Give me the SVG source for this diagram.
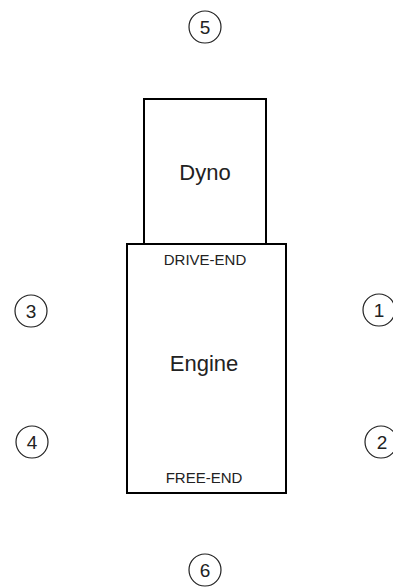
<svg xmlns="http://www.w3.org/2000/svg" width="393" height="587" viewBox="0 0 393 587">
<style>
.box{fill:#fff;stroke:#000;stroke-width:2}
.c{fill:#fff;stroke:#222;stroke-width:1.2}
.n{font-family:"Liberation Sans",Arial,sans-serif;font-size:19px;fill:#222;text-anchor:middle}
.t{font-family:"Liberation Sans",Arial,sans-serif;fill:#222;text-anchor:middle}
</style>
<rect width="393" height="587" fill="#fff"/>
<g id="dyno">
<rect class="box" x="144" y="99" width="122" height="145"/>
<text class="t" x="205" y="180" font-size="22">Dyno</text>
</g>
<g id="engine">
<rect class="box" x="127" y="244" width="159" height="249"/>
<text class="t" x="205" y="265" font-size="15">DRIVE-END</text>
<text class="t" x="204" y="371" font-size="22">Engine</text>
<text class="t" x="204" y="483" font-size="15">FREE-END</text>
</g>
<g id="p5"><circle class="c" cx="205" cy="27" r="16"/><text class="n" x="205" y="34">5</text></g>
<g id="p3"><circle class="c" cx="31" cy="311" r="16"/><text class="n" x="31" y="318">3</text></g>
<g id="p4"><circle class="c" cx="32" cy="442" r="16"/><text class="n" x="32" y="449">4</text></g>
<g id="p1"><circle class="c" cx="379" cy="310" r="16"/><text class="n" x="379" y="317">1</text></g>
<g id="p2"><circle class="c" cx="381" cy="442" r="16"/><text class="n" x="382" y="449">2</text></g>
<g id="p6"><circle class="c" cx="205" cy="570" r="16"/><text class="n" x="205" y="577">6</text></g>
</svg>
